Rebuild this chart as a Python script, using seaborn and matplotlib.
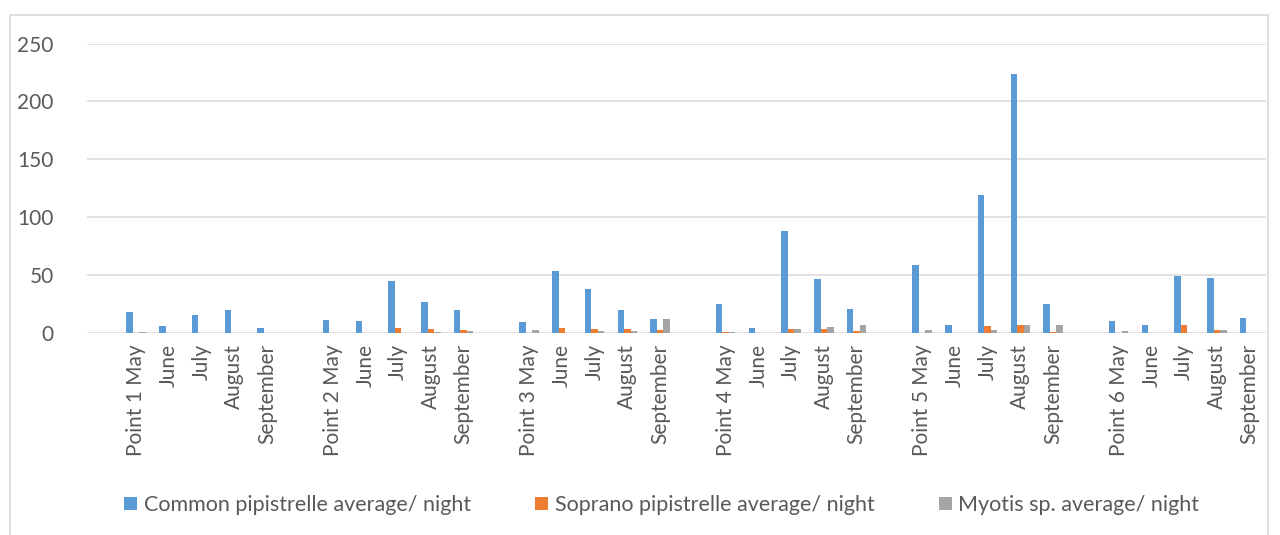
import matplotlib
matplotlib.use("Agg")
import matplotlib.pyplot as plt
import seaborn as sns
import pandas as pd
from matplotlib.patches import Rectangle

points = ["Point 1", "Point 2", "Point 3", "Point 4", "Point 5", "Point 6"]
months = ["May", "June", "July", "August", "September"]
series_names = ["Common pipistrelle average/ night",
                "Soprano pipistrelle average/ night",
                "Myotis sp. average/ night"]

common = [
    [18.5, 6.3, 15.8, 20.0, 4.6],
    [11.0, 10.6, 44.8, 27.0, 19.5],
    [9.2, 53.7, 38.2, 20.1, 12.0],
    [25.0, 4.6, 88.2, 46.5, 21.0],
    [58.4, 7.2, 119.6, 223.3, 25.3],
    [10.0, 7.2, 48.9, 47.4, 13.0],
]
soprano = [
    [0.1, 0.0, 0.2, 0.4, 0.3],
    [0.2, 0.0, 4.0, 3.7, 2.9],
    [0.0, 4.0, 3.2, 3.4, 2.9],
    [0.5, 0.3, 3.7, 3.7, 1.7],
    [0.3, 0.0, 6.0, 7.2, 0.5],
    [0.2, 0.0, 6.6, 2.3, 0.3],
]
myotis = [
    [0.5, 0.0, 0.2, 0.0, 0.3],
    [0.3, 0.0, 0.0, 0.5, 2.0],
    [2.9, 0.0, 2.0, 1.7, 12.4],
    [0.5, 0.2, 3.4, 5.2, 7.2],
    [2.3, 0.3, 2.3, 6.6, 6.6],
    [1.5, 0.0, 0.0, 2.3, 0.3],
]
colors = ["#5B9BD5", "#ED7D31", "#A5A5A5"]

# Build category order: a blank slot before each point's group
keys, labels, rows = [], [], []
for pi, p in enumerate(points):
    blank = f"blank{pi}"
    keys.append(blank)
    labels.append("")
    for s in series_names:
        rows.append((blank, s, 0.0))
    for mi, m in enumerate(months):
        k = f"{p} {m}"
        keys.append(k)
        labels.append(k if mi == 0 else m)
        for s, vals in zip(series_names, [common, soprano, myotis]):
            rows.append((k, s, vals[pi][mi]))
df = pd.DataFrame(rows, columns=["cat", "series", "value"])

sns.set_theme(style="white")
plt.rcParams["font.family"] = ["Lato", "DejaVu Sans"]

fig = plt.figure(figsize=(12.8, 5.35), dpi=100)
ax = fig.add_axes([87 / 1280, 1 - 333 / 535, (1266 - 87) / 1280, (333 - 43.5) / 535])

sns.barplot(data=df, x="cat", y="value", hue="series", order=keys,
            hue_order=series_names, palette=colors, saturation=1,
            width=0.6, gap=0, linewidth=0, errorbar=None, ax=ax)

ax.set_ylim(0, 250)
ax.set_xlim(-0.5, len(keys) - 0.5)
ax.set_yticks([0, 50, 100, 150, 200, 250])
ax.set_xticks(range(len(keys)))
ax.set_xticklabels(labels, rotation=90, fontsize=15, color="#595959")
ax.tick_params(axis="y", labelsize=15, labelcolor="#595959", length=0, pad=24)
ax.tick_params(axis="x", length=0, pad=8)
ax.set_xlabel("")
ax.set_ylabel("")
ax.grid(axis="y", color="#D9D9D9", linewidth=1.1)
ax.set_axisbelow(True)
for sp in ax.spines.values():
    sp.set_visible(False)

handles, lbls = ax.get_legend_handles_labels()
ax.legend_.remove()
fig.legend(handles, lbls, loc="center", bbox_to_anchor=(0.517, 1 - 505 / 535),
           ncol=3, frameon=False, fontsize=15.5, handlelength=0.6, handleheight=0.6,
           handletextpad=0.3, columnspacing=3.0, labelcolor="#595959")

fig.patches.append(Rectangle((10 / 1280, -0.05), (1268 - 10) / 1280, 1 - 15 / 535 + 0.05,
                             transform=fig.transFigure, fill=False,
                             edgecolor="#D9D9D9", linewidth=1.2))

fig.savefig("out.png", dpi=100)
